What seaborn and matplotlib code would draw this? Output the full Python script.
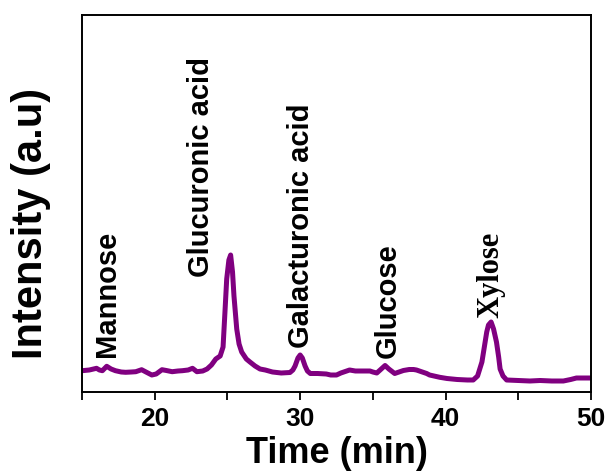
import matplotlib
matplotlib.use("Agg")
import matplotlib.pyplot as plt
import seaborn as sns
import pandas as pd

# ---- data ----
time_min = [15.0, 15.5, 16.0, 16.2, 16.4, 16.7, 17.0, 17.3, 17.7, 18.0, 18.4, 18.7,
            19.1, 19.4, 19.8, 20.1, 20.5, 20.8, 21.2, 21.6, 21.9, 22.3, 22.6, 22.9,
            23.3, 23.6, 23.9, 24.2, 24.5, 24.7, 24.83, 24.95, 25.1, 25.22, 25.35, 25.45,
            25.64, 25.8, 25.98, 26.3, 26.55, 26.9, 27.24, 27.6, 28.1, 28.7, 29.3, 29.5,
            29.65, 29.85, 30.0, 30.15, 30.34, 30.5, 30.7, 31.2, 31.8, 32.1, 32.5, 32.8,
            33.2, 33.4, 33.8, 34.1, 34.5, 34.8, 35.0, 35.27, 35.5, 35.84, 36.1, 36.5,
            36.8, 37.1, 37.5, 37.8, 38.0, 38.4, 38.7, 38.9, 39.6, 40.1, 40.8, 41.5,
            41.9, 42.2, 42.5, 42.83, 42.95, 43.13, 43.3, 43.5, 43.65, 43.75, 43.95, 44.2,
            45.0, 45.8, 46.5, 47.3, 48.1, 48.6, 49.0, 49.5, 50.0]
intensity = [21.3, 22, 23.7, 22, 21.3, 25.7, 23, 21.3, 20, 19.7, 20, 20.3,
             22.3, 20, 17, 18, 22.3, 21.5, 20.3, 21, 21.3, 22, 23.7, 20.3,
             21, 23, 27, 33, 36, 45, 80, 113, 132, 137, 120, 96,
             63, 48, 40, 33, 30, 26, 23, 22, 20, 19, 19.5, 22,
             26, 34, 37, 34, 26, 21, 18.5, 18.5, 18, 17, 17, 19,
             21, 22, 21, 21, 21, 21, 20, 19, 22, 26.5, 23, 18.5,
             20, 21.5, 22.5, 22.5, 22, 20, 18.5, 17, 14.7, 13.5, 12.5, 12,
             12, 16, 30, 60, 67, 70, 63, 50, 35, 23, 16, 12,
             11.5, 11, 11.5, 11, 11, 12.5, 14, 14, 14]

peak_names = ["Mannose", "Glucuronic acid", "Galacturonic acid", "Glucose", "Xylose"]
label_x = [16.72, 23.18, 30.06, 36.05, 43.13]
label_y = [36, 116, 45, 35, 75]

x_ticks = [15, 20, 25, 30, 35, 40, 45, 50]
x_tick_labels = ["", "20", "", "30", "", "40", "", "50"]

df = pd.DataFrame({"Time (min)": time_min, "Intensity": intensity})

sns.set_style("ticks")
plt.rcParams["font.family"] = ["Liberation Sans", "DejaVu Sans"]
plt.rcParams["font.weight"] = "bold"
plt.rcParams["text.color"] = "black"
plt.rcParams["axes.labelcolor"] = "black"
plt.rcParams["xtick.color"] = "black"
plt.rcParams["ytick.color"] = "black"
plt.rcParams["axes.edgecolor"] = "black"

fig = plt.figure(figsize=(6.1, 4.77), dpi=100)
ax = fig.add_axes([82 / 610, 1 - 393 / 477, (591 - 82) / 610, (393 - 16) / 477])

sns.lineplot(data=df, x="Time (min)", y="Intensity", ax=ax, color="#800080",
             linewidth=3.6, estimator=None, sort=False)

ax.set_xlim(15, 50)
ax.set_ylim(0, 377)
ax.set_yticks([])
ax.set_xticks(x_ticks)
ax.set_xticklabels(x_tick_labels)
ax.tick_params(axis="x", direction="out", length=6, width=1.3, pad=4,
               labelsize=19, colors="black", labelcolor="black")
for lbl in ax.get_xticklabels():
    lbl.set_fontweight("bold")
for sp in ax.spines.values():
    sp.set_visible(True)
    sp.set_linewidth(1.4)
    sp.set_color("black")

ax.set_xlabel("Time (min)", fontsize=26, fontweight="bold", labelpad=4, color="black")
ax.set_ylabel("Intensity (a.u)", fontsize=30, fontweight="bold", color="black")
ax.yaxis.set_label_coords(-0.06, 0.45)

for name, lx, ly in zip(peak_names, label_x, label_y):
    fam = ["Liberation Serif", "DejaVu Serif"] if name == "Xylose" else ["Liberation Sans", "DejaVu Sans"]
    size = 22 if name == "Xylose" else 21
    ax.text(lx, ly, name, rotation=90, ha="center", va="bottom",
            fontsize=size, fontweight="bold", family=fam, color="black")

fig.savefig("out.png", dpi=100)
